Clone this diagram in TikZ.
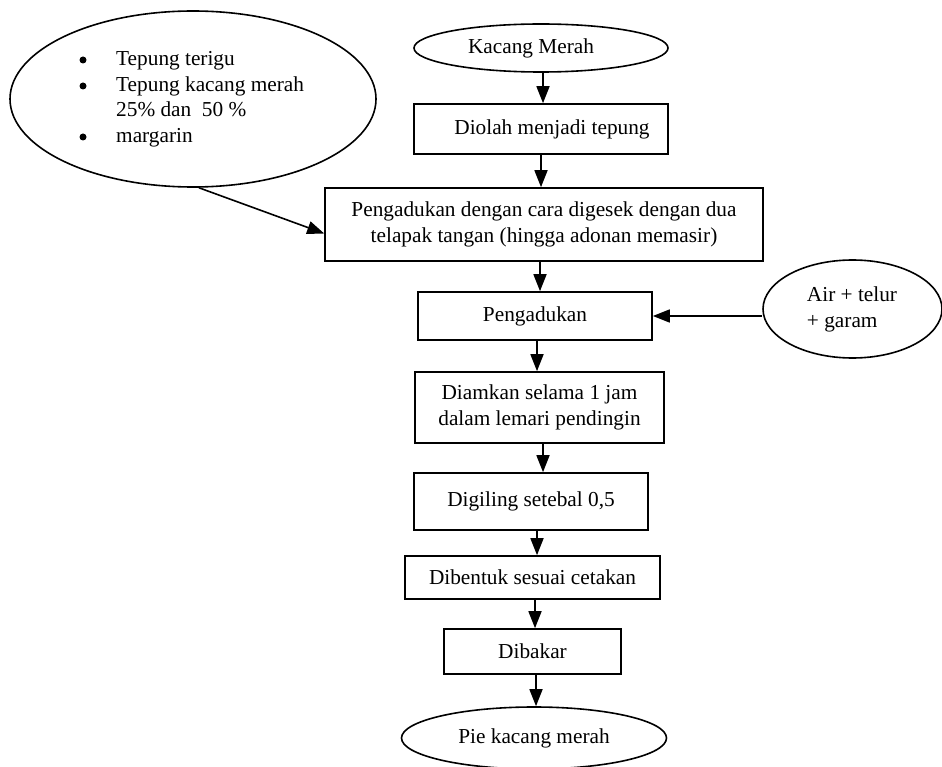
\documentclass[tikz,border=0pt]{standalone}
\usepackage{fontspec}
\setmainfont{Liberation Serif}
\usetikzlibrary{shapes.geometric,arrows.meta}
\begin{document}
\begin{tikzpicture}[x=1pt,y=-1pt,
  every node/.style={font=\fontsize{21.3}{25.5}\selectfont, inner sep=0pt},
  box/.style={draw, line width=1.6pt, rectangle, align=center},
  oval/.style={draw, line width=1.6pt, ellipse},
  dot/.style={circle, fill, minimum size=7pt},
  arr/.style={line width=1.6pt, -{Triangle[length=17pt,width=13pt]}}]
\useasboundingbox (0,0) rectangle (942,767);
\fill[white] (0,0) rectangle (942,767);

% ingredients ellipse
\node[oval, minimum width=366pt, minimum height=176pt] (bahan) at (193,99) {};
\node[dot] (d1) at (83,60) {};
\node[dot] (d2) at (83,86) {};
\node[dot] (d3) at (83,137) {};
\node[anchor=base west] (t1) at (116,66) {Tepung terigu};
\node[anchor=base west] (t2) at (116,91.5) {Tepung kacang merah};
\node[anchor=base west] (t3) at (116,117) {25\% dan\ \ 50 \%};
\node[anchor=base west] (t4) at (116,142.5) {margarin};

% main flow
\node[oval, minimum width=254pt, minimum height=48pt,
      label={[xshift=-10pt]center:Kacang Merah}] (kacang) at (541,48) {};
\node[box, minimum width=254pt, minimum height=50pt,
      label={[xshift=11pt]center:Diolah menjadi tepung}] (diolah) at (541,129) {};
\node[box, minimum width=438pt, minimum height=73pt] (aduk1) at (544,224.5)
  {Pengadukan dengan cara digesek dengan dua\\telapak tangan (hingga adonan memasir)};
\node[box, minimum width=234pt, minimum height=48pt] (aduk2) at (535,316) {Pengadukan};
\node[box, minimum width=249pt, minimum height=71pt] (diam) at (539.5,407.5)
  {Diamkan selama 1 jam\\dalam lemari pendingin};
\node[box, minimum width=234pt, minimum height=57pt] (giling) at (531,501.5) {Digiling setebal 0,5};
\node[box, minimum width=255pt, minimum height=43pt] (bentuk) at (532.5,577.5) {Dibentuk sesuai cetakan};
\node[box, minimum width=177pt, minimum height=45pt] (bakar) at (532.5,651.5) {Dibakar};
\node[oval, minimum width=265pt, minimum height=62pt] (pie) at (534,738) {Pie kacang merah};

% side input
\node[oval, minimum width=179pt, minimum height=98pt] (air) at (852.5,309) {};
\node[align=left] (airtxt) at (852,309.5) {Air + telur\\+ garam};

% connectors
\draw[arr] ([xshift=2pt]kacang.south) -- ([xshift=2pt]kacang.south |- diolah.north);
\draw[arr] (diolah.south) -- (diolah.south |- aduk1.north);
\draw[arr] ([xshift=-4pt]aduk1.south) -- ([xshift=-4pt]aduk1.south |- aduk2.north);
\draw[arr] ([xshift=2pt]aduk2.south) -- ([xshift=2pt]aduk2.south |- diam.north);
\draw[arr] ([xshift=3.5pt]diam.south) -- ([xshift=3.5pt]diam.south |- giling.north);
\draw[arr] ([xshift=6pt]giling.south) -- ([xshift=6pt]giling.south |- bentuk.north);
\draw[arr] ([xshift=2.5pt]bentuk.south) -- ([xshift=2.5pt]bentuk.south |- bakar.north);
\draw[arr] ([xshift=3.5pt]bakar.south) -- ([xshift=3.5pt]bakar.south |- pie.north);
\draw[arr] ([xshift=6pt]bahan.south) -- ([yshift=-9pt]aduk1.west);
\draw[arr] (air.west |- aduk2.east) -- (aduk2.east);
\end{tikzpicture}
\end{document}
